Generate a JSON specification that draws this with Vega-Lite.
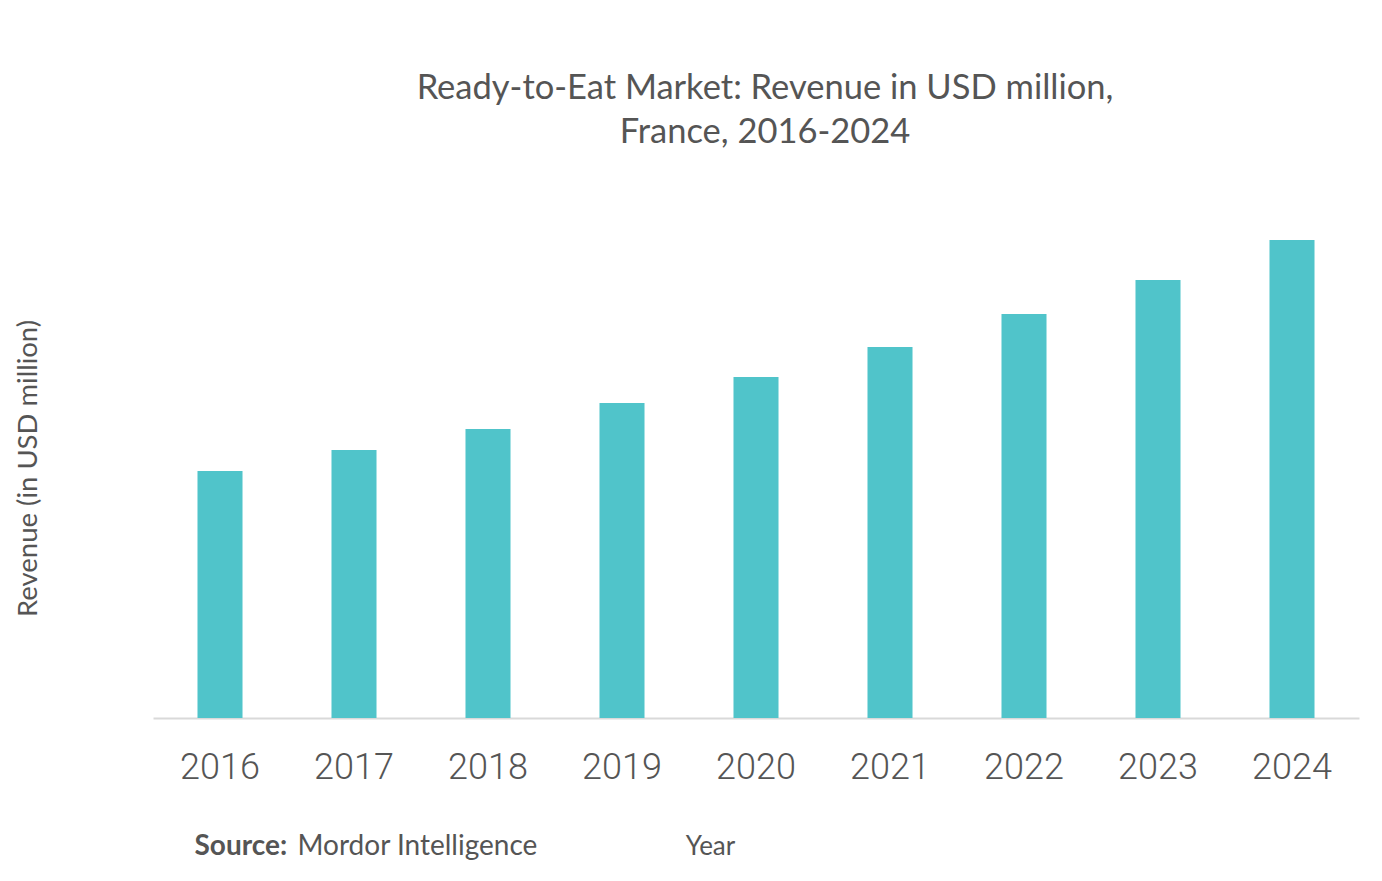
{
  "$schema": "https://vega.github.io/schema/vega-lite/v6.json",
  "width": 1206,
  "height": 500,
  "autosize": {"type": "none"},
  "padding": {"left": 153, "top": 218, "right": 23, "bottom": 163},
  "background": "white",
  "config": {
    "view": {"stroke": null},
    "font": "Lato"
  },
  "title": {
    "text": ["Ready-to-Eat Market: Revenue in USD million,", "France, 2016-2024"],
    "font": "Lato",
    "fontSize": 34.5,
    "fontWeight": "normal",
    "color": "#555555",
    "lineHeight": 44,
    "anchor": "middle",
    "dx": 9,
    "offset": 68
  },
  "layer": [
    {
      "data": {
        "values": [
          {"year": "2016", "revenue": 247},
          {"year": "2017", "revenue": 268},
          {"year": "2018", "revenue": 289},
          {"year": "2019", "revenue": 315},
          {"year": "2020", "revenue": 341},
          {"year": "2021", "revenue": 371},
          {"year": "2022", "revenue": 404},
          {"year": "2023", "revenue": 438},
          {"year": "2024", "revenue": 478}
        ]
      },
      "mark": {"type": "bar", "color": "#50c4ca"},
      "encoding": {
        "x": {
          "field": "year",
          "type": "ordinal",
          "scale": {"paddingInner": 0.664, "paddingOuter": 0.332},
          "axis": {
            "title": "Year",
            "titleFont": "Lato",
            "titleFontSize": 26,
            "titleFontWeight": "normal",
            "titleColor": "#555555",
            "titleX": 557,
            "titleY": 128,
            "titleBaseline": "middle",
            "labelAngle": 0,
            "labelFont": "Roboto",
            "labelFontSize": 36,
            "labelFontWeight": 300,
            "labelColor": "#555555",
            "labelPadding": 32,
            "ticks": false,
            "domainColor": "#d9d9d9",
            "domainWidth": 2
          }
        },
        "y": {
          "field": "revenue",
          "type": "quantitative",
          "scale": {"domain": [0, 500]},
          "axis": {
            "title": "Revenue (in USD million)",
            "titleFont": "Lato",
            "titleFontSize": 27.5,
            "titleFontWeight": "normal",
            "titleColor": "#555555",
            "titlePadding": 111,
            "labels": false,
            "ticks": false,
            "domain": false,
            "grid": false
          }
        }
      }
    },
    {
      "data": {"values": [{"year": "2016", "label": "Source:"}]},
      "mark": {
        "type": "text",
        "align": "left",
        "baseline": "middle",
        "font": "Lato",
        "fontSize": 28,
        "fontWeight": "bold",
        "color": "#555555",
        "dx": -3,
        "dy": 129
      },
      "encoding": {
        "x": {"field": "year", "type": "ordinal", "bandPosition": 0},
        "y": {"datum": 0, "type": "quantitative"},
        "text": {"field": "label"}
      }
    },
    {
      "data": {"values": [{"year": "2016", "label": "Mordor Intelligence"}]},
      "mark": {
        "type": "text",
        "align": "left",
        "baseline": "middle",
        "font": "Lato",
        "fontSize": 28,
        "fontWeight": "normal",
        "color": "#555555",
        "dx": 100,
        "dy": 129
      },
      "encoding": {
        "x": {"field": "year", "type": "ordinal", "bandPosition": 0},
        "y": {"datum": 0, "type": "quantitative"},
        "text": {"field": "label"}
      }
    }
  ]
}
